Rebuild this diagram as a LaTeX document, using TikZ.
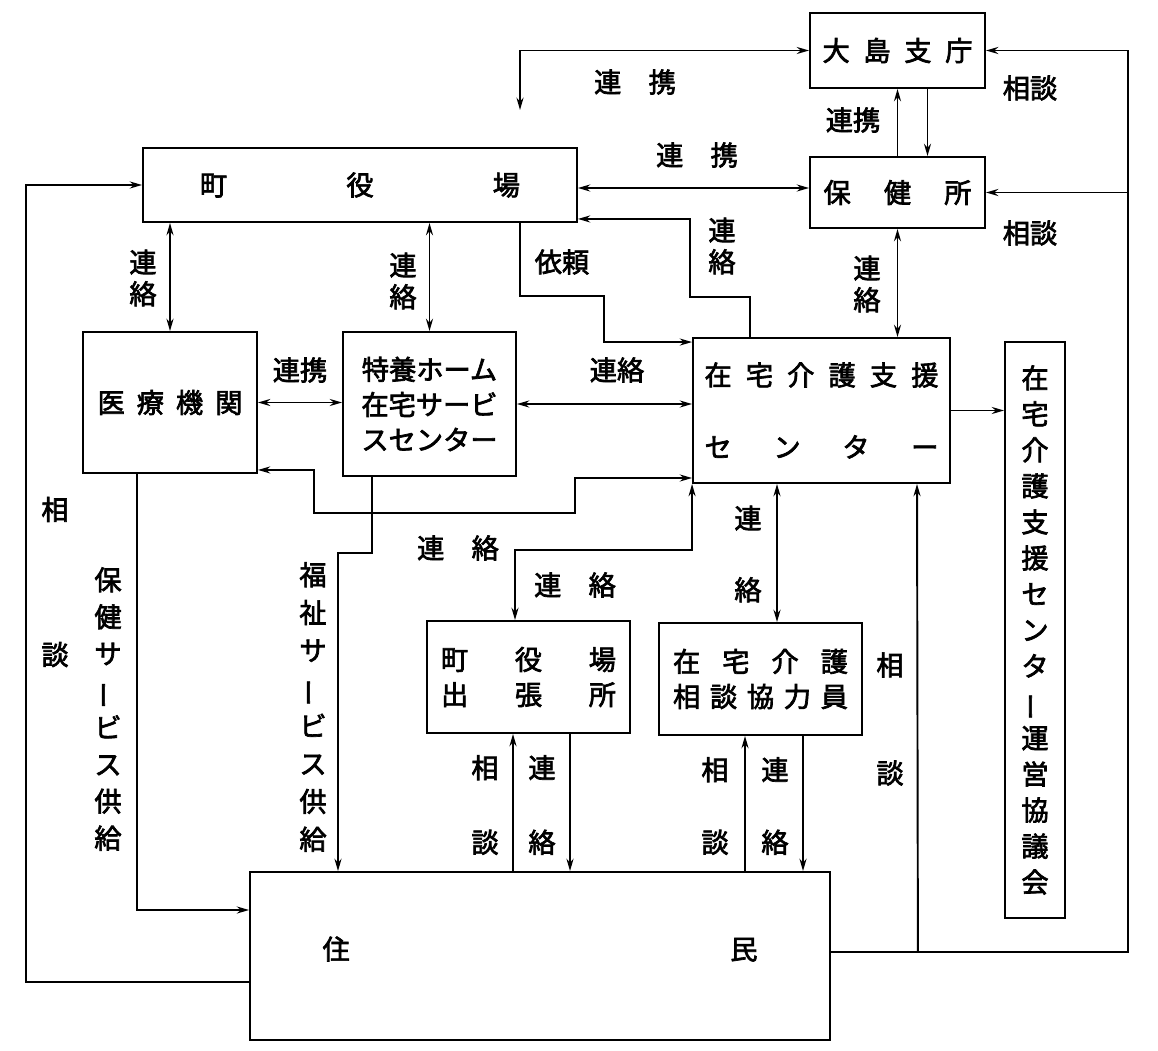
\documentclass[tikz,border=0pt]{standalone}
\usepackage{fontspec}
\setmainfont{Noto Sans CJK JP}[FakeBold=2.5]
\usetikzlibrary{positioning}
\usetikzlibrary{calc}
\usetikzlibrary{arrows.meta}

\newcommand{\vbar}{\rotatebox[origin=c]{90}{ー}}

\begin{document}
\begin{tikzpicture}[x=0.02cm, y=-0.02cm, >={Stealth[length=7pt,width=4pt]},
    office/.style={draw, line width=1.1pt, inner sep=0pt, align=center, font={\fontsize{15.5}{20}\selectfont}},
    tag/.style={inner sep=0pt, align=center, font={\fontsize{15.5}{18}\selectfont}},
    link/.style={line width=1.1pt}]
\useasboundingbox (0,0) rectangle (1158,1050);

\node[office, minimum width=3.5cm, minimum height=1.5cm] (oshima) at (897.5,50.5) {\makebox[3cm]{大\hfill 島\hfill 支\hfill 庁}};
\node[office, minimum width=3.5cm, minimum height=1.42cm] (hokenjo) at (897.5,192.5) {\makebox[2.96cm]{保\hfill 健\hfill 所}};
\node[office, minimum width=8.68cm, minimum height=1.48cm] (yakuba) at (360,185) {\makebox[6.4cm]{町\hfill 役\hfill 場}};
\node[office, minimum width=3.48cm, minimum height=2.82cm] (iryo) at (170,402.5) {\makebox[2.9cm]{医\hfill 療\hfill 機\hfill 関}};
\node[office, minimum width=3.46cm, minimum height=2.88cm] (tokuyo) at (429.5,404) {特養ホーム\\在宅サービ\\スセンター};
\node[office, minimum width=5.14cm, minimum height=2.9cm] (shien) at (821.5,410.5) {\makebox[4.68cm]{在\hfill 宅\hfill 介\hfill 護\hfill 支\hfill 援}\\[21pt]\makebox[4.68cm]{セ\hfill ン\hfill タ\hfill ー}};
\node[office, minimum width=1.2cm, minimum height=11.52cm, font={\fontsize{15.5}{20.5}\selectfont}] (council) at (1035,630) {在\\宅\\介\\護\\支\\援\\セ\\ン\\タ\\\vbar\\運\\営\\協\\議\\会};
\node[office, minimum width=4.06cm, minimum height=2.24cm] (shuchojo) at (528.5,677) {\makebox[3.5cm]{町\hfill 役\hfill 場}\\\makebox[3.5cm]{出\hfill 張\hfill 所}};
\node[office, minimum width=4.06cm, minimum height=2.24cm] (kyoryoku) at (760.5,679) {\makebox[3.5cm]{在\hfill 宅\hfill 介\hfill 護}\\\makebox[3.5cm]{相\hfill 談\hfill 協\hfill 力\hfill 員}};
\node[office, minimum width=11.6cm, minimum height=3.36cm] (jumin) at (540,956) {\makebox[8.7cm]{住\hfill 民}\\[-0.38cm]};
\coordinate (free) at (520,110);
\coordinate (rightrail) at (1128,0);

\node[tag] (tagTop) at (635,82) {連\quad 携};
\node[tag] (tagOshima) at (853,120) {連携};
\node[tag] (tagHoken) at (697,155) {連\quad 携};
\node[tag] (tagSoudanA) at (1030,88) {相談};
\node[tag] (tagSoudanB) at (1030,233) {相談};
\node[tag] (tagIryoUp) at (143,278) {連\\絡};
\node[tag] (tagTokuUp) at (403,281) {連\\絡};
\node[tag] (tagIrai) at (562,262) {依頼};
\node[tag] (tagShienUp) at (722,246) {連\\絡};
\node[tag] (tagHokenDown) at (867,284) {連\\絡};
\node[tag] (tagIryoToku) at (300,370) {連携};
\node[tag] (tagTokuShien) at (617,370) {連絡};
\node[tag] (tagLoop) at (458,548) {連\quad 絡};
\node[tag] (tagBranch) at (575,585) {連\quad 絡};
\node[tag] (tagKyoUp) at (748,554) {連\\[0.8cm]絡};
\node[tag] (tagLeft) at (55,582) {相\\[2.27cm]談};
\node[tag, font={\fontsize{15.5}{21}\selectfont}] (tagHokenSv) at (108,709) {保\\健\\サ\\\vbar\\ビ\\ス\\供\\給};
\node[tag, font={\fontsize{15.5}{21.5}\selectfont}] (tagFukushiSv) at (313,707) {福\\祉\\サ\\\vbar\\ビ\\ス\\供\\給};
\node[tag] (tagShuSou) at (485,805) {相\\[0.86cm]談};
\node[tag] (tagShuRen) at (542,805) {連\\[0.86cm]絡};
\node[tag] (tagKyoSou) at (715,806) {相\\[0.82cm]談};
\node[tag] (tagKyoRen) at (775,806) {連\\[0.82cm]絡};
\node[tag] (tagRight) at (890,719) {相\\[1.53cm]談};

\draw[link, <->] (free) |- (oshima.west);
\draw[link, ->] (hokenjo.north) -- (oshima.south);
\draw[link, ->] ($(oshima.south)+(30,0)$) -- ($(hokenjo.north)+(30,0)$);
\draw[link, <->] (yakuba.east |- 0,188) -- (hokenjo.west |- 0,188);
\draw[link, ->] (jumin.east |- 0,952) -| (oshima.east -| rightrail) -- (oshima.east);
\draw[link, ->] (hokenjo.east -| rightrail) -- (hokenjo.east);
\draw[link, ->] ($(jumin.east)+(87,-4)$) -- (shien.south -| 917,0);
\draw[link, ->] ($(jumin.west)+(0,26)$) -| ($(yakuba.west)+(-116,0)$) -- (yakuba.west);
\draw[link, <->] (yakuba.south -| iryo.north) -- (iryo.north);
\draw[link, <->] (yakuba.south -| tokuyo.north) -- (tokuyo.north);
\draw[link, ->] (yakuba.south -| 520,0) |- (604,296) |- ($(shien.north west)+(0,5)$);
\draw[link, ->] (shien.north -| 750,0) |- (690,297) |- ($(yakuba.south east)+(0,-4)$);
\draw[link, <->] (hokenjo.south) -- (hokenjo.south |- shien.north);
\draw[link, <->] (iryo.east) -- (iryo.east -| tokuyo.west);
\draw[link, <->] (tokuyo.east) -- (tokuyo.east -| shien.west);
\draw[link, <->] ($(iryo.south east)+(0,-4)$) -| (314,513) -| (575,478) -- (shien.west |- 0,478);
\draw[link, <->] (shien.south west) |- (515,550) -- (shuchojo.north -| 515,0);
\draw[link, <->] (shien.south -| 777,0) -- (kyoryoku.north -| 777,0);
\draw[link, ->] (iryo.south -| 137,0) |- (jumin.west |- 0,910);
\draw[link, ->] (tokuyo.south -| 372,0) |- (338,553) -- (jumin.north -| 338,0);
\draw[link, ->] (jumin.north -| 513,0) -- (shuchojo.south -| 513,0);
\draw[link, ->] (shuchojo.south -| 570,0) -- (jumin.north -| 570,0);
\draw[link, ->] (jumin.north -| 745,0) -- (kyoryoku.south -| 745,0);
\draw[link, ->] (kyoryoku.south -| 803,0) -- (jumin.north -| 803,0);
\draw[link, ->] (shien.east) -- (shien.east -| council.west);
\end{tikzpicture}
\end{document}
